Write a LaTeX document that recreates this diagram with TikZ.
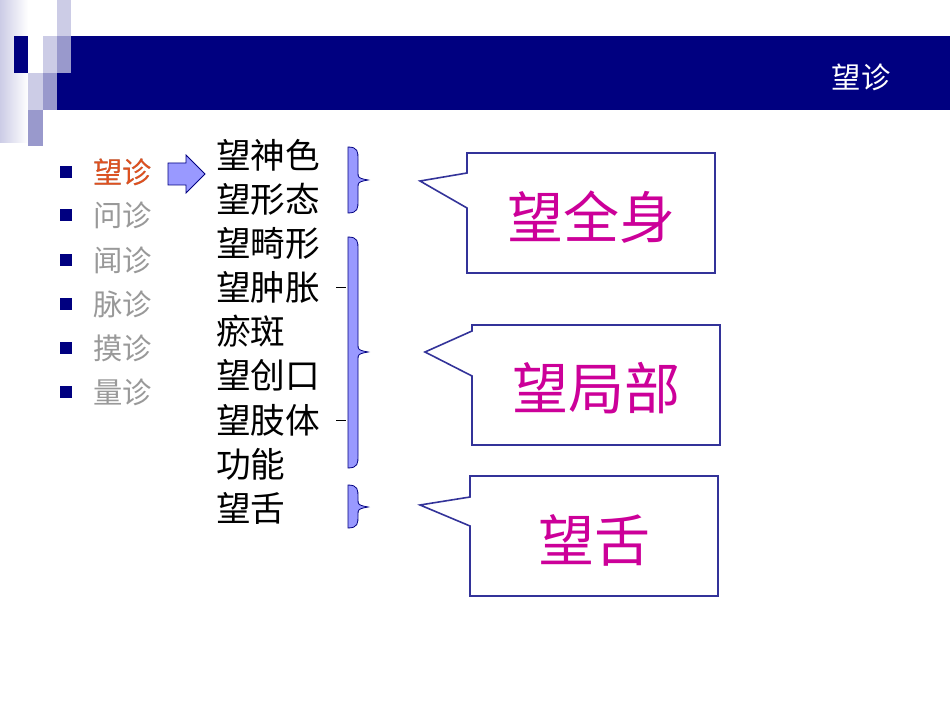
\documentclass[tikz,border=0pt]{standalone}
\usepackage{fontspec}
\newfontfamily\cjk{Noto Sans CJK SC}
\newcommand\mybrace[4]{% x0, y1, ym, y2
  \fill[bracefill,draw=navy,line width=0.6pt] (#1,#2) .. controls (#1+10,#2) and (#1+10,#2+5) .. (#1+10,#2+12) -- (#1+10,#3-8) .. controls (#1+10,#3-2) .. (#1+20,#3) .. controls (#1+10,#3+2) .. (#1+10,#3+8) -- (#1+10,#4-12) .. controls (#1+10,#4-5) and (#1+10,#4) .. (#1,#4) -- cycle;}
\definecolor{navy}{HTML}{000080}
\definecolor{lav}{HTML}{CCCCE6}
\definecolor{lavm}{HTML}{9999CC}
\definecolor{bracefill}{HTML}{9999FF}
\definecolor{mag}{HTML}{CC0099}
\definecolor{redor}{HTML}{E0501E}
\definecolor{boxline}{HTML}{333399}
\begin{document}
\begin{tikzpicture}[x=0.75pt,y=-0.75pt,
  item/.style={anchor=west,font=\cjk\fontsize{22}{24}\selectfont,text=gray!80,inner sep=0pt},
  lst/.style={anchor=west,font=\cjk\fontsize{26}{28}\selectfont,inner sep=0pt},
  big/.style={font=\cjk\fontsize{42}{46}\selectfont,text=mag},
  call/.style={draw=boxline,line width=1.2pt,fill=white,line join=miter}]
\useasboundingbox (0,0) rectangle (950,713);
\shade[left color=lav,right color=white] (0,0) rectangle (28,143);
\fill[navy] (57,36) rectangle (950,110);
\fill[lav] (57,0) rectangle (71,36);
\fill[lavm] (57,36) rectangle (71,73);
\fill[lav] (43,36) rectangle (57,73);
\fill[navy] (14,36) rectangle (28,73);
\fill[lav] (28,73) rectangle (43,110);
\fill[lavm] (43,73) rectangle (57,110);
\fill[lavm] (28,110) rectangle (43,146);
\node[text=white,font=\cjk\fontsize{22}{24}\selectfont] (title) at (861,77) {望诊};
\foreach \y/\t [count=\i] in {172/望诊,215/问诊,260/闻诊,304/脉诊,348/摸诊,392/量诊}{
  \fill[navy] (60,\y-6) rectangle (72,\y+6);
  \node[item] (b\i) at (93,\y) {\t};
}
\node[item,text=redor] at (93,172) {望诊};
\fill[bracefill,draw=navy,line width=0.6pt] (168,163) -- (186,163) -- (186,155) -- (205,174) -- (186,193) -- (186,185) -- (168,185) -- cycle;
\foreach \y/\t [count=\i] in {155/望神色,199/望形态,243/望畸形,287/望肿胀,331/瘀斑,375/望创口,420/望肢体,464/功能,508/望舌}{
  \node[lst] (l\i) at (216,\y) {\t};
}
\draw (336,287) -- (346,287) (336,420) -- (346,420);
\mybrace{348}{147}{180}{213}
\mybrace{348}{237}{352}{468}
\mybrace{348}{485}{507}{528}
\draw[call] (467,153) -- (715,153) -- (715,273) -- (467,273) -- (467,208) -- (420,181) -- (467,173) -- cycle;
\draw[call] (472,325) -- (720,325) -- (720,445) -- (472,445) -- (472,376) -- (425,352) -- (472,331) -- cycle;
\draw[call] (470,476) -- (718,476) -- (718,596) -- (470,596) -- (470,526) -- (420,505) -- (470,497) -- cycle;
\node[big] (c1) at (591,217) {望全身};
\node[big] (c2) at (596,388) {望局部};
\node[big] (c3) at (594,540) {望舌};
\end{tikzpicture}
\end{document}
